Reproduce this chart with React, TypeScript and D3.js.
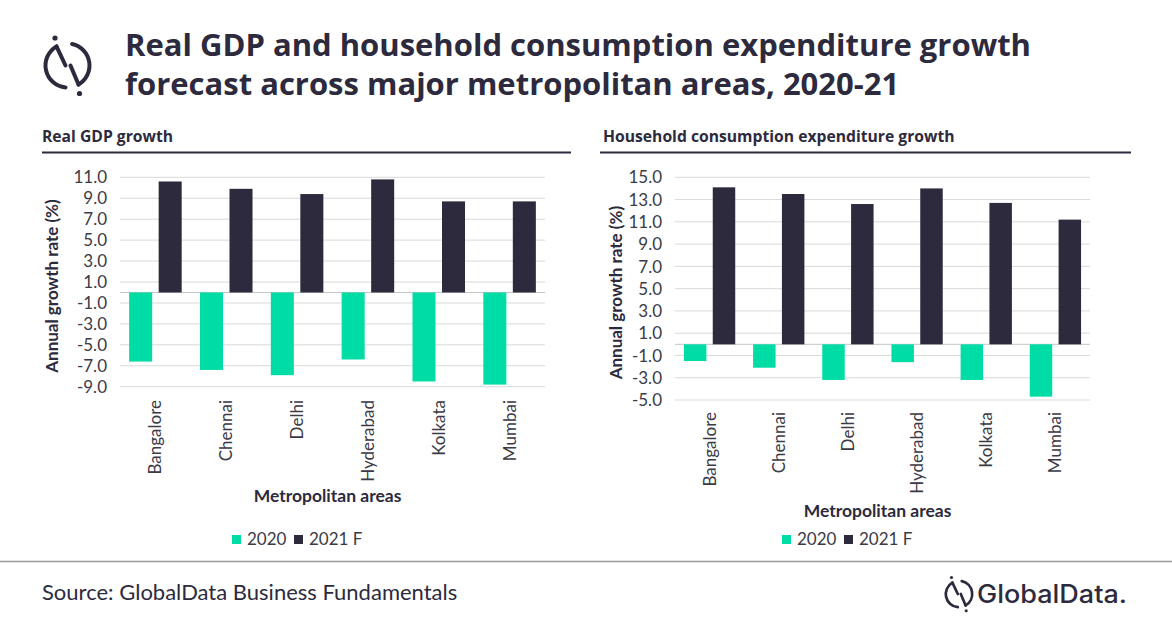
import * as d3 from 'd3';

const cities = ['Bangalore', 'Chennai', 'Delhi', 'Hyderabad', 'Kolkata', 'Mumbai'];
const seriesNames = ['2020', '2021 F'];
const gdp2020 = [-6.6, -7.4, -7.9, -6.4, -8.5, -8.8];
const gdp2021 = [10.6, 9.9, 9.4, 10.8, 8.7, 8.7];
const hce2020 = [-1.5, -2.1, -3.2, -1.6, -3.2, -4.7];
const hce2021 = [14.1, 13.5, 12.6, 14.0, 12.7, 11.2];
const gdpTicks = [-9, -7, -5, -3, -1, 1, 3, 5, 7, 9, 11];
const hceTicks = [-5, -3, -1, 1, 3, 5, 7, 9, 11, 13, 15];

const GREEN = '#00dca5';
const DARK = '#2d2a3e';
const TEXT = '#3b3a46';
const GRID = '#d9d9d9';

interface PanelProps {
  title: string;
  titleX: number;
  ruleX: [number, number];
  xRange: [number, number];
  yRange: [number, number];
  ticks: number[];
  v2020: number[];
  v2021: number[];
  yTitleX: number;
  labelTop: number;
  xTitleY: number;
  legendX: number;
}

// tiny version of the globaldata mark, drawn around its centre
const Mark = ({ cx, cy, s, sw }: { cx: number; cy: number; s: number; sw: number }) => {
  const p = (a: number) => [22 * Math.cos((a * Math.PI) / 180), 22 * Math.sin((a * Math.PI) / 180)];
  const [a1x, a1y] = p(-120);
  const [a2x, a2y] = p(95);
  const [b1x, b1y] = p(-78);
  const [b2x, b2y] = p(60);
  return (
    <g transform={`translate(${cx},${cy}) scale(${s})`} fill="none" stroke={DARK} strokeWidth={sw} strokeLinecap="round">
      <path d={`M${a1x},${a1y} A22,22 0 0 0 ${a2x},${a2y}`} />
      <path d={`M${b1x},${b1y} A22,22 0 0 1 ${b2x},${b2y}`} />
      <path d={`M${a1x},${a1y} L-2,0`} />
      <path d={`M3,0 L${b2x},${b2y}`} />
      <circle cx={-12.5} cy={-27.5} r={2.6} fill={DARK} stroke="none" />
      <circle cx={12} cy={28} r={2.6} fill={DARK} stroke="none" />
    </g>
  );
};

const Panel = (p: PanelProps) => {
  const x0 = d3.scaleBand<string>().domain(cities).range(p.xRange).padding(0);
  const x1 = d3.scaleBand<string>()
    .domain(seriesNames)
    .range([0, x0.bandwidth()])
    .paddingInner(0.22)
    .paddingOuter(0.31);
  const y = d3.scaleLinear()
    .domain([p.ticks[0], p.ticks[p.ticks.length - 1]])
    .range(p.yRange);
  const [left, right] = p.xRange;

  return (
    <g>
      <text x={p.titleX} y={142} fontFamily="Open Sans" fontWeight={700} fontSize={15.7} fill={DARK}>
        {p.title}
      </text>
      <line x1={p.ruleX[0]} x2={p.ruleX[1]} y1={152.5} y2={152.5} stroke={DARK} strokeWidth={2} />

      {/* grid + y labels */}
      {p.ticks.map(t => (
        <g key={t}>
          <line x1={left} x2={right} y1={y(t)} y2={y(t)} stroke={GRID} strokeWidth={1} />
          <text
            x={left - 13}
            y={y(t)}
            dy="0.36em"
            textAnchor="end"
            fontFamily="Lato"
            fontSize={17}
            fill={TEXT}
          >
            {t.toFixed(1)}
          </text>
        </g>
      ))}
      <line x1={left} x2={right} y1={y(0)} y2={y(0)} stroke="#c4c4c4" strokeWidth={1} />

      {/* bars */}
      {cities.map((c, i) => (
        <g key={c} transform={`translate(${x0(c)},0)`}>
          <rect
            x={x1('2020')}
            y={y(Math.max(0, p.v2020[i]))}
            width={x1.bandwidth()}
            height={Math.abs(y(p.v2020[i]) - y(0))}
            fill={GREEN}
          />
          <rect
            x={x1('2021 F')}
            y={y(Math.max(0, p.v2021[i]))}
            width={x1.bandwidth()}
            height={Math.abs(y(p.v2021[i]) - y(0))}
            fill={DARK}
          />
        </g>
      ))}

      {/* category labels */}
      {cities.map(c => (
        <text
          key={c}
          transform={`translate(${(x0(c) ?? 0) + x0.bandwidth() / 2 + 6},${p.labelTop}) rotate(-90)`}
          textAnchor="end"
          fontFamily="Lato"
          fontSize={17}
          fill={TEXT}
        >
          {c}
        </text>
      ))}

      <text
        transform={`translate(${p.yTitleX},${(p.yRange[0] + p.yRange[1]) / 2 + 4}) rotate(-90)`}
        textAnchor="middle"
        fontFamily="Lato"
        fontWeight={700}
        fontSize={17}
        fill={DARK}
      >
        Annual growth rate (%)
      </text>
      <text
        x={(left + right) / 2 - 5}
        y={p.xTitleY}
        textAnchor="middle"
        fontFamily="Lato"
        fontWeight={700}
        fontSize={17.5}
        fill={DARK}
      >
        Metropolitan areas
      </text>

      {/* legend */}
      <g transform={`translate(${p.legendX},0)`}>
        <rect x={0} y={535} width={9} height={9} fill={GREEN} />
        <text x={15} y={545} fontFamily="Lato" fontSize={17} fill={TEXT}>2020</text>
        <rect x={62} y={535} width={9} height={9} fill={DARK} />
        <text x={77} y={545} fontFamily="Lato" fontSize={17} fill={TEXT}>2021 F</text>
      </g>
    </g>
  );
};

export default function App() {
  return (
    <svg
      width={1172}
      height={628}
      style={{ position: 'absolute', left: 0, top: 0, background: '#fff' }}
    >
      <rect width={1172} height={628} fill="#fff" />
      <Mark cx={67.5} cy={65.5} s={1} sw={4} />
      <text fontFamily="Open Sans" fontWeight={700} fontSize={31} fill={DARK}>
        <tspan x={125} y={56}>Real GDP and household consumption expenditure growth</tspan>
        <tspan x={125} y={95}>forecast across major metropolitan areas, 2020-21</tspan>
      </text>

      <Panel
        title="Real GDP growth"
        titleX={42}
        ruleX={[42, 571]}
        xRange={[120, 545]}
        yRange={[386.7, 177.3]}
        ticks={gdpTicks}
        v2020={gdp2020}
        v2021={gdp2021}
        yTitleX={58}
        labelTop={400}
        xTitleY={502}
        legendX={232}
      />
      <Panel
        title="Household consumption expenditure growth"
        titleX={603}
        ruleX={[600, 1131]}
        xRange={[675, 1090]}
        yRange={[400, 177.3]}
        ticks={hceTicks}
        v2020={hce2020}
        v2021={hce2021}
        yTitleX={622}
        labelTop={412}
        xTitleY={517}
        legendX={782}
      />

      <line x1={0} x2={1172} y1={561.5} y2={561.5} stroke="#9a9a9a" strokeWidth={1.5} />
      <text x={42} y={600} fontFamily="Lato" fontSize={22} fill={DARK}>
        Source: GlobalData Business Fundamentals
      </text>
      <Mark cx={959} cy={594} s={0.6} sw={4.5} />
      <text x={977} y={603} fontFamily="Inter" fontWeight={500} fontSize={25} fill={DARK} textLength={150} lengthAdjust="spacingAndGlyphs">
        GlobalData.
      </text>
    </svg>
  );
}
